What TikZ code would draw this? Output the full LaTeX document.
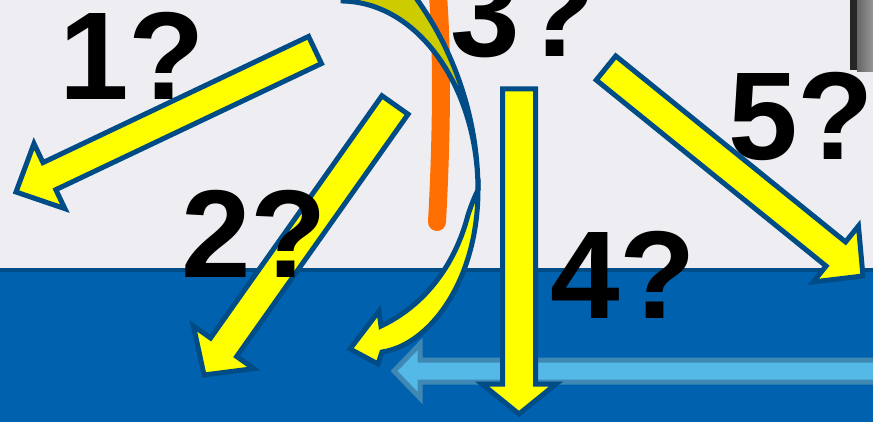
\documentclass[tikz,border=0pt]{standalone}
\usepackage{fontspec}
\setmainfont{Liberation Sans}
\usetikzlibrary{calc}
\definecolor{skygrey}{HTML}{EEEEF2}
\definecolor{seablue}{HTML}{0062AE}
\definecolor{edgeblue}{HTML}{004C87}
\definecolor{arrowyellow}{HTML}{FFFF00}
\definecolor{backolive}{HTML}{CCCC00}
\definecolor{flameorange}{HTML}{FF6E00}
\definecolor{flowblue}{HTML}{55B9E8}
\definecolor{flowedge}{HTML}{4088B4}
\tikzset{
  arrowline/.style={draw=edgeblue, line width=5pt, line join=miter},
  arrowbox/.style={arrowline, fill=arrowyellow},
  qlabel/.style={font=\bfseries\fontsize{125}{125}\selectfont, inner sep=0pt, anchor=base west}
}
% 宽箭头: [样式]{起点}{终点}{半杆宽}{头长}{半头宽}
\newcommand{\blockarrow}[6][]{%
  \coordinate (ba-s) at (#2);
  \coordinate (ba-e) at (#3);
  \coordinate (ba-b) at ($(ba-e)!#5!(ba-s)$);
  \draw[arrowbox,#1] ($(ba-s)!#4!90:(ba-e)$) -- ($(ba-b)!#4!-90:(ba-s)$)
    -- ($(ba-b)!#6!-90:(ba-s)$) -- (ba-e) -- ($(ba-b)!#6!90:(ba-s)$)
    -- ($(ba-b)!#4!90:(ba-s)$) -- ($(ba-s)!#4!-90:(ba-e)$) -- cycle;
}
\begin{document}
\begin{tikzpicture}[x=1pt, y=-1pt]
  \useasboundingbox (0,0) rectangle (873,422);
  \clip (0,0) rectangle (873,422);
  % 背景
  \fill[skygrey] (0,0) rectangle (873,270);
  \fill[seablue] (0,270) rectangle (873,422);
  \fill[edgeblue] (0,268) rectangle (873,272);
  % 右上角
  \fill[black!85] (850,-1) rectangle (857,70);
  \shade[left color=black!60, right color=black!40] (857,-1) rectangle (874,72);
  % 橙色笔画
  \draw[flameorange, line width=18pt, line cap=round]
    (438,-4) .. controls (443,60) and (441,150) .. (437,222);
  % 弯箭头 (背面, 正面)
  \draw[arrowline, fill=backolive] (343,1) .. controls (420,3) and (478,90) .. (478,190)
    .. controls (478,120) and (455,50) .. (413,-6) -- (343,-6) -- cycle;
  \draw[arrowline, fill=arrowyellow] (478,190) .. controls (478,280) and (430,345) .. (382,352)
    -- (378,364) -- (350,349) -- (379,311) -- (381,326)
    .. controls (425,305) and (455,265) .. (468,215)
    .. controls (472,203) and (475,196) .. (478,190) -- cycle;
  % 直箭头 1, 2, 5
  \blockarrow{315,50}{16,192}{15pt}{37pt}{36pt}
  \blockarrow{395,105}{204,375}{16pt}{34pt}{37pt}
  \blockarrow{606,68}{863,276}{15.5pt}{35pt}{36pt}
  % 浅蓝水流
  \blockarrow[draw=flowedge, fill=flowblue, line width=5pt]{885,371}{394,371}{11pt}{26pt}{27pt}
  % 箭头 4
  \blockarrow{519,89}{519,414}{16.5pt}{30pt}{37pt}
  % 问号
  \node[qlabel] (q1) at (59,100) {1?};
  \node[qlabel] (q2) at (181,277) {2?};
  \node[qlabel] (q3) at (450,57) {3?};
  \node[qlabel] (q4) at (550,318) {4?};
  \node[qlabel] (q5) at (728,160) {5?};
\end{tikzpicture}
\end{document}
